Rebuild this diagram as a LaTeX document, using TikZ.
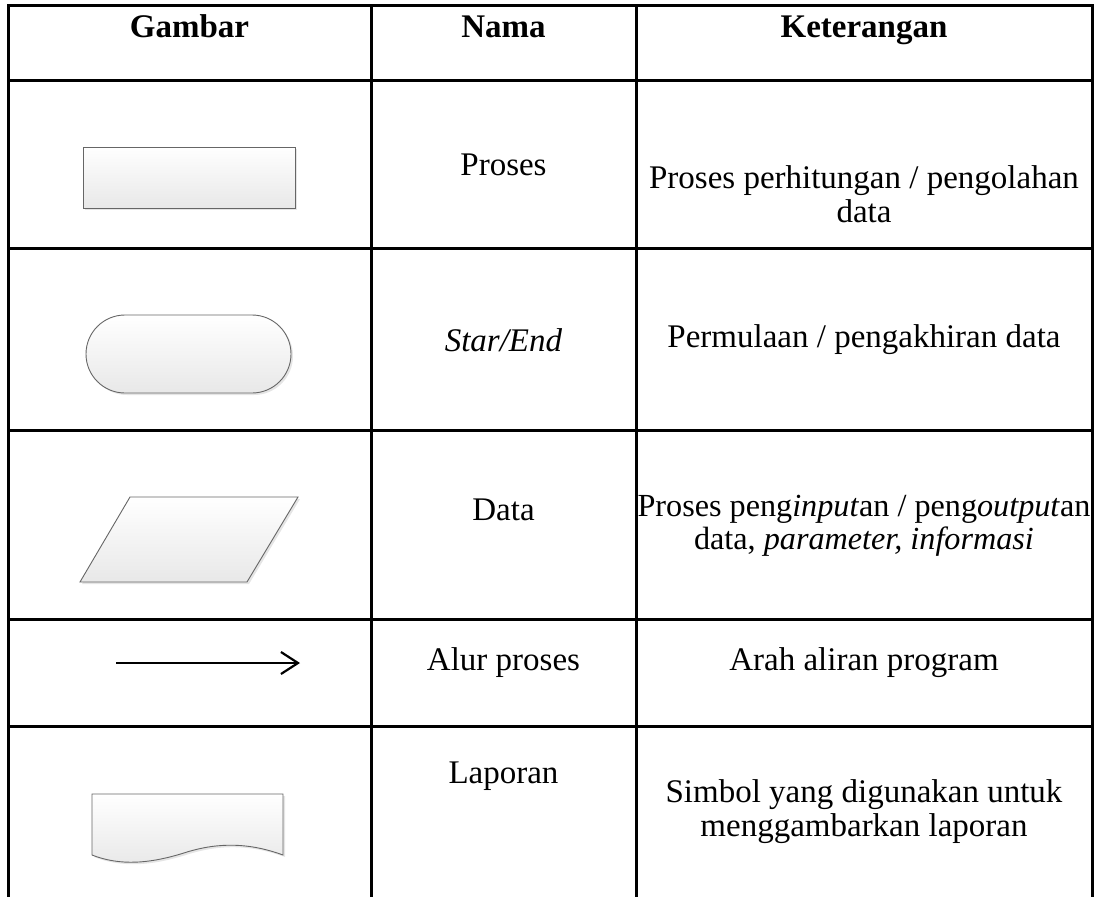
\documentclass[tikz,border=0pt]{standalone}
\usepackage{fontspec}
\setmainfont{Liberation Serif}
\usetikzlibrary{arrows.meta}

\begin{document}
\begin{tikzpicture}[x=1pt,y=-1pt,
        grid/.style={line width=3pt,line cap=rect},
        sym/.style={draw=black!60,line width=0.9pt,top color=white,bottom color=black!9},
        shadow/.style={fill=black!10,draw=none,shift={(2,2)}}]
    \useasboundingbox (0,0) rectangle (1098,897);
    % table lines
    \foreach \y in {5,80,248,430,619,726}
        \draw[grid] (8,\y) -- (1092,\y);
    \foreach \x in {8,371,636,1092}
        \draw[grid] (\x,5) -- (\x,897);
    % symbols
    \fill[shadow] (83,147) rectangle (295,208);
    \path[sym] (83,147) rectangle (295,208);
    \fill[shadow,rounded corners=39pt] (86,315) rectangle (291,393);
    \path[sym,rounded corners=39pt] (86,315) rectangle (291,393);
    \fill[shadow] (130,497) -- (298,497) -- (247,582) -- (80,582) -- cycle;
    \path[sym] (130,497) -- (298,497) -- (247,582) -- (80,582) -- cycle;
    \coordinate (a0) at (116,663);
    \coordinate (a1) at (300,663);
    \draw[line width=2.2pt,-{Straight Barb[length=17pt,width=22pt,line width=2.2pt]}] (a0) -- (a1);
    \fill[shadow] (92,794) -- (283,794) -- (283,855)
        .. controls (250,843) and (220,842) .. (187,852)
        .. controls (150,864) and (120,866) .. (92,855) -- cycle;
    \path[sym] (92,794) -- (283,794) -- (283,855)
        .. controls (250,843) and (220,842) .. (187,852)
        .. controls (150,864) and (120,866) .. (92,855) -- cycle;
    % texts
    \begin{scope}[every node/.style={font=\fontsize{33}{34}\selectfont,align=center,inner sep=0pt}]
        \node[anchor=base,font=\fontsize{33}{34}\selectfont\bfseries] (hgambar) at (189.5,37) {Gambar};
        \node[anchor=base,font=\fontsize{33}{34}\selectfont\bfseries] (hnama) at (503.5,37) {Nama};
        \node[anchor=base,font=\fontsize{33}{34}\selectfont\bfseries] (hket) at (864,37) {Keterangan};
        \node (nproses) at (503.5,165) {Proses};
        \node (kproses) at (864,194) {Proses perhitungan / pengolahan\\data};
        \node (nstart) at (503.5,340) {\textit{Star/End}};
        \node (kstart) at (864,340) {Permulaan / pengakhiran data};
        \node (ndata) at (503.5,510) {Data};
        \node[font=\fontsize{32.2}{33}\selectfont] (kdata) at (864,526) {Proses peng\textit{input}an / peng\textit{output}an\\data, \textit{parameter, informasi}};
        \node (nalur) at (503.5,663) {Alur proses};
        \node (kalur) at (864,663) {Arah aliran program};
        \node (nlapor) at (503.5,776) {Laporan};
        \node (klapor) at (864,812) {Simbol yang digunakan untuk\\menggambarkan laporan};
    \end{scope}
\end{tikzpicture}
\end{document}
